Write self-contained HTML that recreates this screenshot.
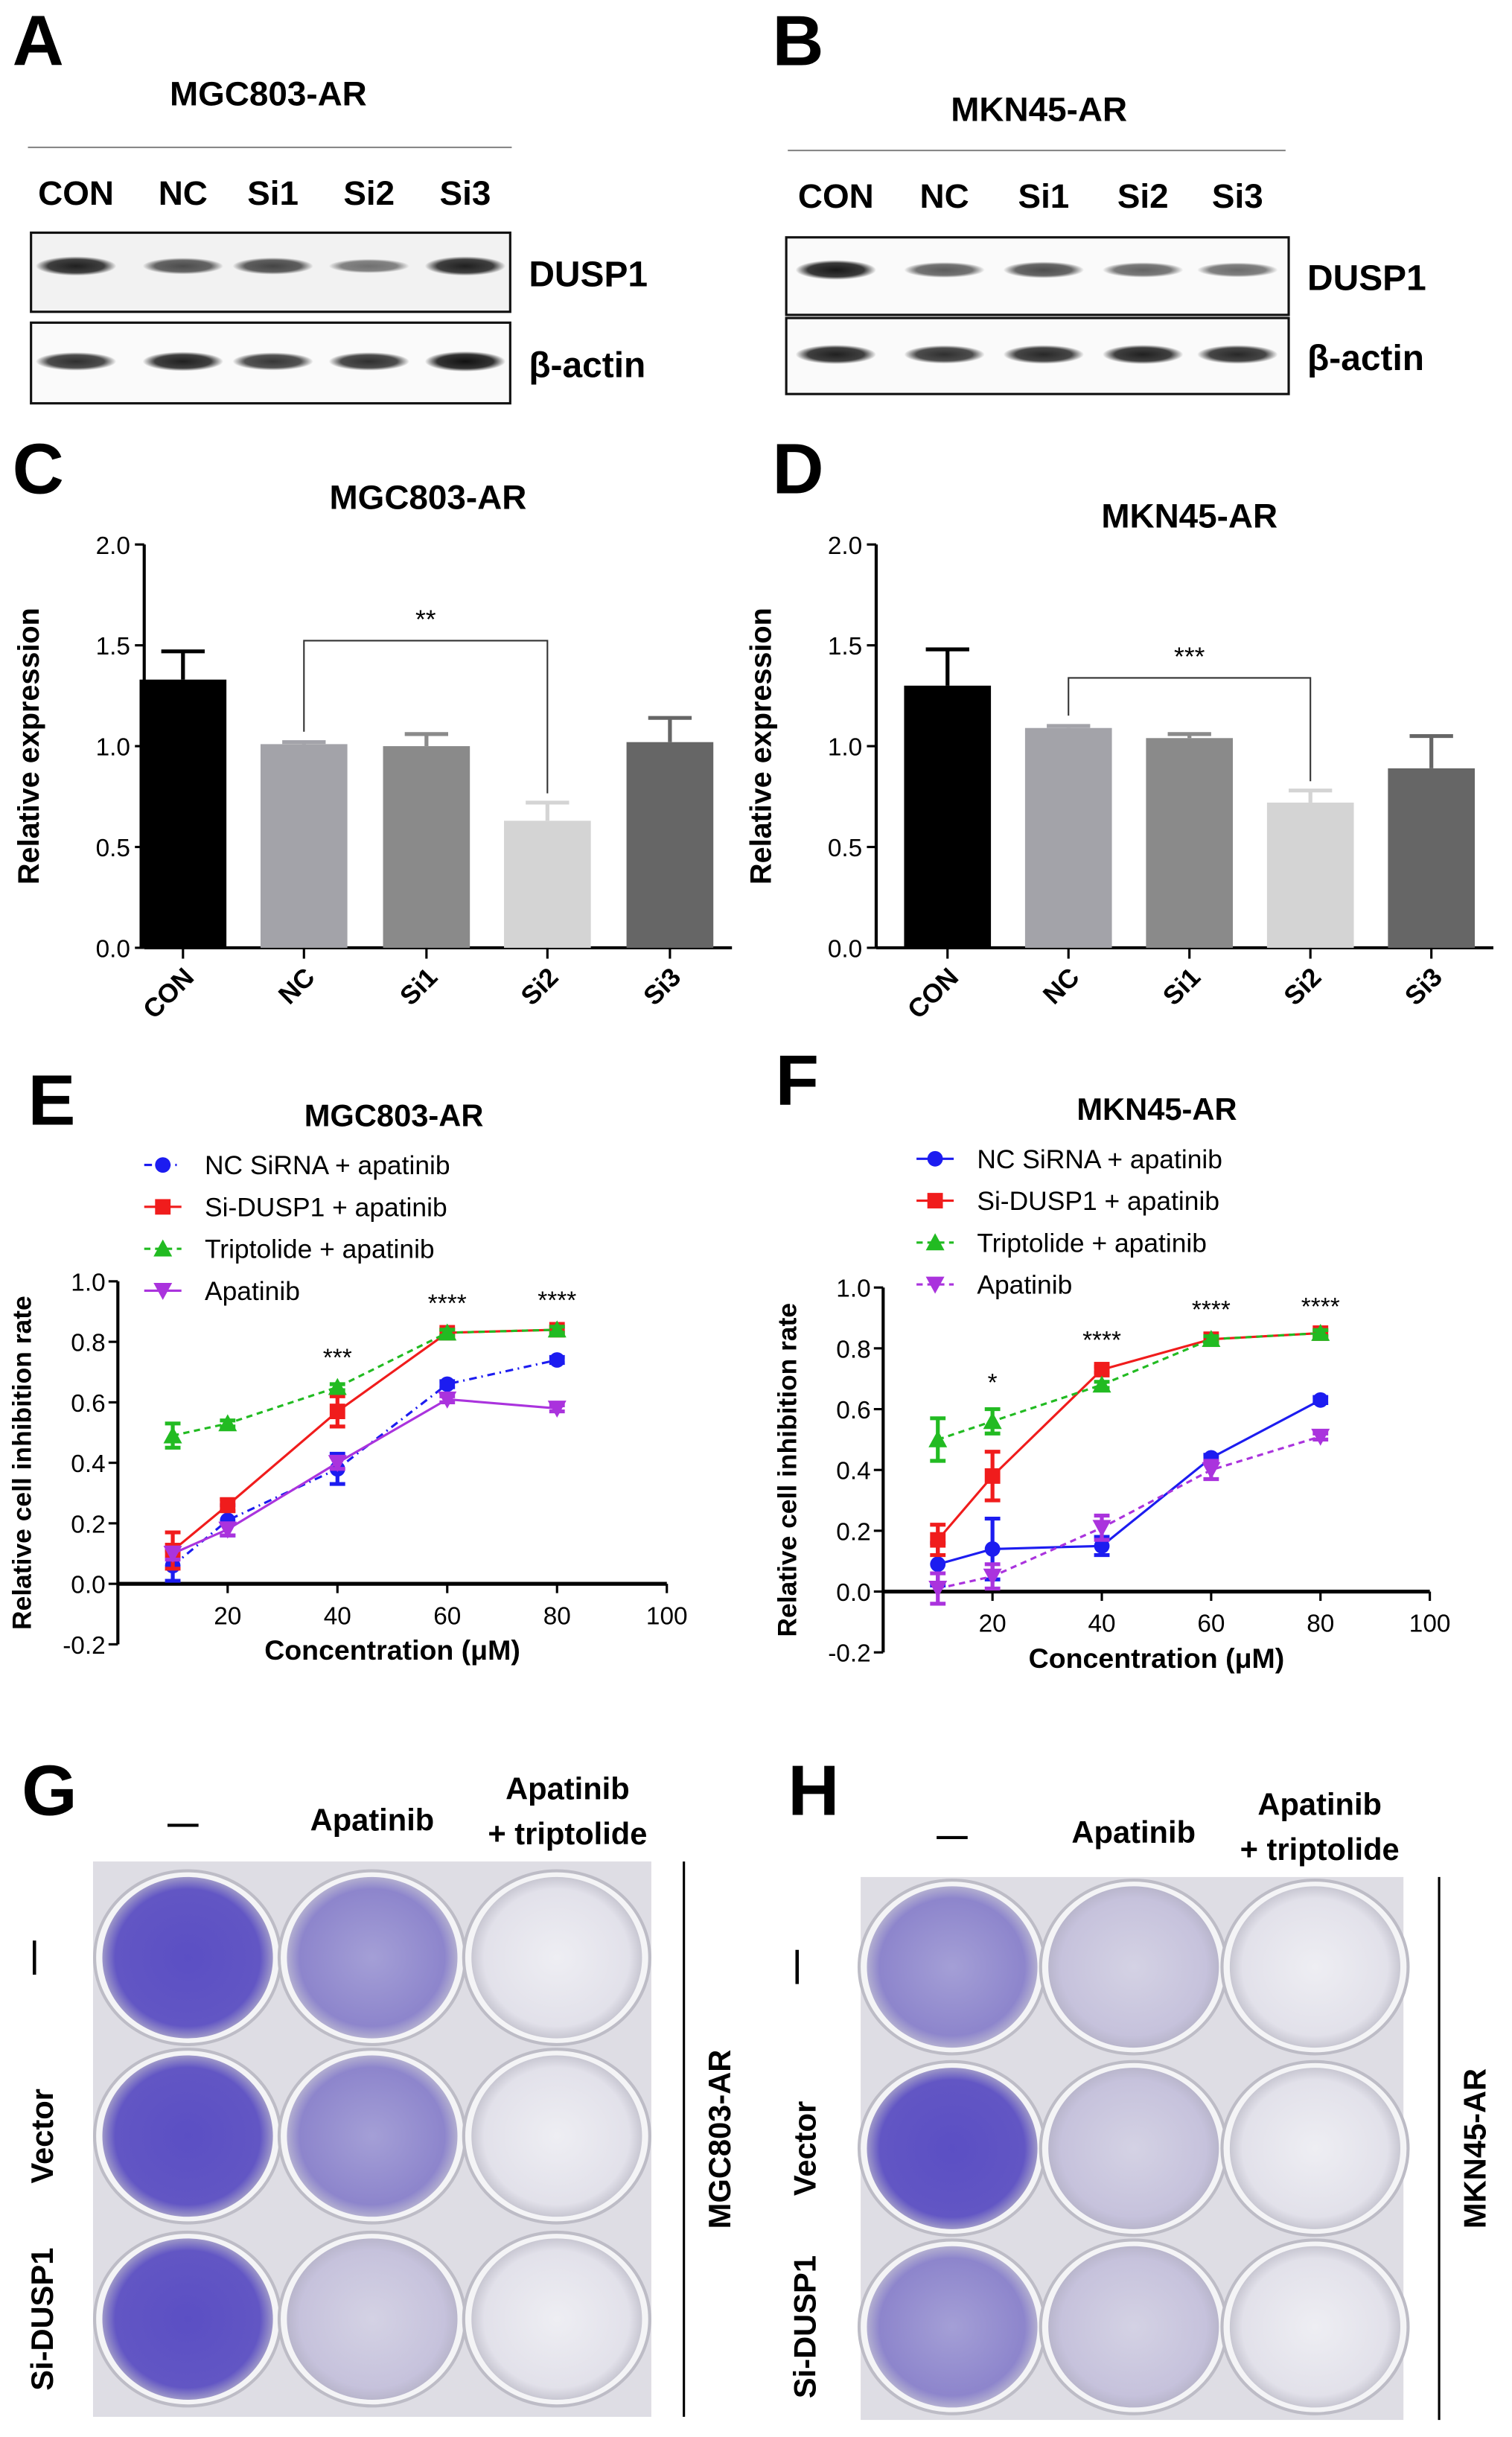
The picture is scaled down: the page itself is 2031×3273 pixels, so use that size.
<!DOCTYPE html>
<html><head><meta charset="utf-8"><style>
html,body{margin:0;padding:0;background:#fff}
svg{display:block}
text{font-family:"Liberation Sans",Arial,sans-serif}
.b{font-weight:bold}
</style></head><body>
<svg id="fig" xmlns="http://www.w3.org/2000/svg" width="2031" height="3273" viewBox="0 0 975 1571" preserveAspectRatio="none">
<defs>
<radialGradient id="gDark" cx="50%" cy="50%" r="50%"><stop offset="0" stop-color="#5b4fc4"/><stop offset="0.85" stop-color="#6256c4"/><stop offset="1" stop-color="#9d97c8"/></radialGradient>
<radialGradient id="gMid" cx="50%" cy="50%" r="50%"><stop offset="0" stop-color="#a49fd6"/><stop offset="0.85" stop-color="#8d85cc"/><stop offset="1" stop-color="#b2aed0"/></radialGradient>
<radialGradient id="gLight" cx="50%" cy="50%" r="50%"><stop offset="0" stop-color="#d4d2e4"/><stop offset="0.85" stop-color="#c6c2dc"/><stop offset="1" stop-color="#b9b6cc"/></radialGradient>
<radialGradient id="gClear" cx="50%" cy="50%" r="50%"><stop offset="0" stop-color="#eeeef3"/><stop offset="0.85" stop-color="#e2e1ea"/><stop offset="1" stop-color="#c8c7d2"/></radialGradient>
<radialGradient id="band" cx="50%" cy="50%" r="50%"><stop offset="0" stop-color="#111"/><stop offset="0.7" stop-color="#333"/><stop offset="1" stop-color="#333" stop-opacity="0"/></radialGradient>
</defs>
<g id="root"></g>
</svg>
<script>
// ---- data ----
const barCats = ["CON","NC","Si1","Si2","Si3"];
const barC = [1.33,1.01,1.00,0.63,1.02];
const barCErr = [0.14,0.01,0.06,0.09,0.12];
const barD = [1.30,1.09,1.04,0.72,0.89];
const barDErr = [0.18,0.01,0.02,0.06,0.16];
const barYTicks = [0,0.5,1.0,1.5,2.0];
const barColors = ["#000000","#a3a3a9","#8a8a8a","#d4d4d4","#666666"];
const concX = [10,20,40,60,80];
const xTicks = [20,40,60,80,100];
const lineYTicks = [-0.2,0,0.2,0.4,0.6,0.8,1.0];
const eNC = [0.06,0.21,0.38,0.66,0.74];
const eNCErr = [0.05,0.05,0.05,0.01,0.01];
const eSi = [0.11,0.26,0.57,0.83,0.84];
const eSiErr = [0.06,0.02,0.05,0.01,0.01];
const eTr = [0.49,0.53,0.65,0.83,0.84];
const eTrErr = [0.04,0.01,0.01,0.01,0.01];
const eAp = [0.10,0.18,0.40,0.61,0.58];
const eApErr = [0.02,0.02,0.02,0.01,0.01];
const fNC = [0.09,0.14,0.15,0.44,0.63];
const fNCErr = [0.07,0.10,0.03,0.01,0.01];
const fSi = [0.17,0.38,0.73,0.83,0.85];
const fSiErr = [0.05,0.08,0.01,0.01,0.01];
const fTr = [0.50,0.56,0.68,0.83,0.85];
const fTrErr = [0.07,0.04,0.01,0.01,0.01];
const fAp = [0.01,0.05,0.21,0.40,0.51];
const fApErr = [0.05,0.04,0.04,0.03,0.01];
const legendLabels = ["NC SiRNA + apatinib","Si-DUSP1 + apatinib","Triptolide + apatinib","Apatinib"];

const NS="http://www.w3.org/2000/svg";
const root=document.getElementById('root');
function el(tag,attrs,parent,txt){const e=document.createElementNS(NS,tag);for(const k in attrs)e.setAttribute(k,attrs[k]);if(txt!==undefined)e.textContent=txt;(parent||root).appendChild(e);return e;}
function T(x,y,s,size,opts,parent){opts=opts||{};const a={x:x,y:y,'font-size':size,fill:opts.fill||'#000'};if(opts.bold!==false)a['font-weight']='bold';if(opts.anchor)a['text-anchor']=opts.anchor;if(opts.transform)a.transform=opts.transform;const t=el('text',a,parent,s);return t;}

// panel letters
[["A",8,42],["B",498,42],["C",8,318],["D",498,318],["E",18,725],["F",500,712],["G",14,1170],["H",508,1170]].forEach(p=>{
  const t=T(p[1],p[2],p[0],46);
  
  
});

// ---- western blots ----
function blot(id,title,tx,ty,lx1,lx2,ly,labY,lanes,box1,box2,dusp,actin){
  const g=el('g',{});
  
  
  T(tx,ty,title,22,{anchor:'middle'},g);
  el('line',{x1:lx1,x2:lx2,y1:ly,y2:ly,stroke:'#888','stroke-width':1},g);
  barCats.forEach((c,i)=>T(lanes[i],labY,c,22,{anchor:'middle'},g));
  [box1,box2].forEach((b,k)=>{
    el('rect',{x:b[0],y:b[1],width:b[2],height:b[3],fill:k==0&&id=='a'?'#f2f2f2':'#fafafa',stroke:'#111','stroke-width':1.5},g);
    const ints=k==0?dusp:actin;
    lanes.forEach((x,i)=>{el('ellipse',{cx:x,cy:b[1]+b[3]/2-(k==0?4:1),rx:26,ry:3.5+3*ints[i],fill:'url(#band)',opacity:0.35+0.65*ints[i]},g);});
  });
  T(box1[0]+box1[2]+12,box1[1]+box1[3]/2+9,"DUSP1",23,{},g);
  T(box2[0]+box2[2]+12,box2[1]+box2[3]/2+9,"β-actin",23,{},g);
}
blot('a',"MGC803-AR",173,68,18,330,95,132,[49,118,176,238,300],[20,150,309,51],[20,208,309,52],[0.9,0.6,0.65,0.35,0.9],[0.8,0.9,0.75,0.8,1]);
blot('b',"MKN45-AR",670,78,508,829,97,134,[539,609,673,737,798],[507,153,324,50],[507,205,324,49],[0.95,0.5,0.6,0.45,0.4],[0.9,0.8,0.85,0.9,0.85]);

// ---- bar charts ----
function barChart(id,title,tx,ty,ax,y0,y2,centers,vals,errs,sig,sigIdx,sigY){
  const g=el('g',{});
  
  
  const ys=v=>y0-(y0-y2)*v/2;
  T(tx,ty,title,22,{anchor:'middle'},g);
  el('line',{x1:ax,x2:ax,y1:y2,y2:y0,stroke:'#000','stroke-width':2},g);
  el('line',{x1:ax,x2:centers[4]+40,y1:y0,y2:y0,stroke:'#000','stroke-width':2},g);
  barYTicks.forEach(v=>{el('line',{x1:ax-6,x2:ax,y1:ys(v),y2:ys(v),stroke:'#000','stroke-width':1.5},g);
    T(ax-9,ys(v)+6,v.toFixed(1),16,{anchor:'end',bold:false},g);});
  const yt=T(0,0,"Relative expression",19,{anchor:'middle',transform:`translate(${ax-68},${(y0+y2)/2}) rotate(-90)`},g);
  
  
  vals.forEach((v,i)=>{
    const r=el('rect',{x:centers[i]-28,y:ys(v),width:56,height:y0-ys(v),fill:barColors[i]},g);
    
    
    const ye=ys(v+errs[i]);
    el('line',{x1:centers[i],x2:centers[i],y1:ys(v),y2:ye,stroke:barColors[i],'stroke-width':2.5},g);
    el('line',{x1:centers[i]-14,x2:centers[i]+14,y1:ye,y2:ye,stroke:barColors[i],'stroke-width':2.5},g);
    el('line',{x1:centers[i],x2:centers[i],y1:y0,y2:y0+7,stroke:'#000','stroke-width':1.5},g);
    T(0,0,barCats[i],17,{anchor:'end',transform:`translate(${centers[i]+8},${y0+20}) rotate(-45)`},g);
  });
  const a=centers[sigIdx[0]],b=centers[sigIdx[1]];
  el('path',{d:`M${a} ${ys(vals[sigIdx[0]])-8} V${sigY} H${b} V${ys(vals[sigIdx[1]]+errs[sigIdx[1]])-6}`,fill:'none',stroke:'#333','stroke-width':1},g);
  T((a+b)/2,sigY-8,sig,17,{anchor:'middle',bold:false},g);
}
barChart('c',"MGC803-AR",276,328,93,611,351,[118,196,275,353,432],barC,barCErr,"**",[1,3],413);
barChart('d',"MKN45-AR",767,340,565,611,351,[611,689,767,845,923],barD,barDErr,"***",[1,3],437);

// ---- line charts ----
function marker(g,shape,x,y,c){
  if(shape=='circle')return el('circle',{cx:x,cy:y,r:5,fill:c},g);
  if(shape=='square')return el('rect',{x:x-5,y:y-5,width:10,height:10,fill:c},g);
  if(shape=='tri')return el('path',{d:`M${x} ${y-6}L${x+6} ${y+5}L${x-6} ${y+5}Z`,fill:c},g);
  return el('path',{d:`M${x} ${y+6}L${x+6} ${y-5}L${x-6} ${y-5}Z`,fill:c},g);
}
function lineChart(id,title,tx,ty,x0,unit,y1,yz,series,legX,legY,stars,starY,brk,brkStar,nc_dash,ap_dash){
  const g=el('g',{});
  
  
  const yu=(yz-y1);
  const xs=v=>x0+v*unit, ys=v=>yz-yu*v;
  T(tx,ty,title,20,{anchor:'middle'},g);
  el('line',{x1:x0,x2:x0,y1:ys(1),y2:ys(-0.2),stroke:'#000','stroke-width':2},g);
  el('line',{x1:x0,x2:xs(100),y1:yz,y2:yz,stroke:'#000','stroke-width':2.5},g);
  lineYTicks.forEach(v=>{el('line',{x1:x0-6,x2:x0,y1:ys(v),y2:ys(v),stroke:'#000','stroke-width':1.5},g);
    T(x0-8,ys(v)+6,v.toFixed(1),16,{anchor:'end',bold:false},g);});
  xTicks.forEach(v=>{el('line',{x1:xs(v),x2:xs(v),y1:yz,y2:yz+6,stroke:'#000','stroke-width':1.5},g);
    T(xs(v),yz+26,String(v),16,{anchor:'middle',bold:false},g);});
  T(xs(50),ys(-0.2)+10,"Concentration (μM)",18,{anchor:'middle'},g);
  T(0,0,"Relative cell inhibition rate",17,{anchor:'middle',transform:`translate(${x0-56},${ys(0.4)}) rotate(-90)`},g);
  series.forEach((s,k)=>{
    const sg=el('g',{},g);
    
    
    const pts=concX.map((c,i)=>xs(c)+','+ys(s.v[i])).join(' ');
    el('polyline',{points:pts,fill:'none',stroke:s.c,'stroke-width':1.5,'stroke-dasharray':s.dash||''},sg);
    concX.forEach((c,i)=>{
      const x=xs(c),a=ys(s.v[i]-s.e[i]),b=ys(s.v[i]+s.e[i]);
      el('path',{d:`M${x} ${a}V${b}M${x-5} ${a}H${x+5}M${x-5} ${b}H${x+5}`,stroke:s.c,'stroke-width':2.5,fill:'none'},sg);
      marker(sg,s.m,x,ys(s.v[i]),s.c);
    });
    const ly=legY+k*27;
    const lg=el('g',{},g);
    
    
    el('line',{x1:legX-12,x2:legX+12,y1:ly,y2:ly,stroke:s.c,'stroke-width':1.5,'stroke-dasharray':s.dash||''},lg);
    marker(lg,s.m,legX,ly,s.c);
    T(legX+27,ly+6,legendLabels[k],17,{bold:false},lg);
  });
  stars.forEach(st=>T(xs(st[0]),ys(st[1]),st[2],16,{anchor:'middle',bold:false},g));
  el('path',{d:`M${xs(80)+8} ${ys(brk[0])}H${xs(80)+22}V${ys(brk[1])}H${xs(80)+8}`,fill:'none',stroke:'#333','stroke-width':1},g);
  T(xs(80)+30,(ys(brk[0])+ys(brk[1]))/2+8,brkStar,16,{bold:false},g);
}
lineChart('e',"MGC803-AR",254,726,76,3.54,826,1021,[
 {name:'nc-sirna',v:eNC,e:eNCErr,c:'#1c1cf0',m:'circle',dash:'5,3,1,3'},
 {name:'si-dusp1',v:eSi,e:eSiErr,c:'#f01c1c',m:'square'},
 {name:'triptolide',v:eTr,e:eTrErr,c:'#22bb22',m:'tri',dash:'4,3'},
 {name:'apatinib',v:eAp,e:eApErr,c:'#aa33dd',m:'tri-down'}],105,751,
 [[40,0.72,'***'],[60,0.90,'****'],[80,0.91,'****']],[0.84,0.58],'*');
lineChart('f',"MKN45-AR",746,722,569.5,3.525,830,1026,[
 {name:'nc-sirna',v:fNC,e:fNCErr,c:'#1c1cf0',m:'circle'},
 {name:'si-dusp1',v:fSi,e:fSiErr,c:'#f01c1c',m:'square'},
 {name:'triptolide',v:fTr,e:fTrErr,c:'#22bb22',m:'tri',dash:'4,3'},
 {name:'apatinib',v:fAp,e:fApErr,c:'#aa33dd',m:'tri-down',dash:'4,3'}],603,747,
 [[20,0.66,'*'],[40,0.80,'****'],[60,0.90,'****'],[80,0.91,'****']],[0.85,0.51],'**');

// ---- colony plates ----
function plates(id,x,y,w,h,cols,rows,fills,colLabels,rowLabelX,lineX,cell){
  const g=el('g',{});
  
  
  el('rect',{x:x,y:y,width:w,height:h,fill:'#dedde4'},g);
  rows.forEach((ry,r)=>cols.forEach((cx,c)=>{
    el('ellipse',{cx:cx,cy:ry,rx:60,ry:56,fill:'#f4f4f6',stroke:'#bdbcc6','stroke-width':2},g);
    el('ellipse',{cx:cx,cy:ry,rx:55,ry:52,fill:'url(#'+fills[r][c]+')'},g);
  }));
  colLabels.forEach(l=>T(l[0],l[1],l[2],20,{anchor:'middle'},g));
  T(0,0,"—",22,{anchor:'middle',transform:`translate(${rowLabelX},${rows[0]}) rotate(-90)`},g);
  T(0,0,"Vector",20,{anchor:'middle',transform:`translate(${rowLabelX+6},${rows[1]}) rotate(-90)`},g);
  T(0,0,"Si-DUSP1",20,{anchor:'middle',transform:`translate(${rowLabelX+6},${rows[2]}) rotate(-90)`},g);
  el('line',{x1:lineX,x2:lineX,y1:y,y2:y+h,stroke:'#000','stroke-width':1.5},g);
  T(0,0,cell,20,{anchor:'middle',transform:`translate(${lineX+30},${y+h/2}) rotate(-90)`},g);
}
plates('g',60,1200,360,358,[121,240,359],[1262,1377,1495],
 [['gDark','gMid','gClear'],['gDark','gMid','gClear'],['gDark','gLight','gClear']],
 [[118,1182,'—'],[240,1180,'Apatinib'],[366,1160,'Apatinib'],[366,1189,'+ triptolide']],28,441,"MGC803-AR");
plates('h',555,1210,350,350,[614,731,848],[1268,1385,1500],
 [['gMid','gLight','gClear'],['gDark','gLight','gClear'],['gMid','gLight','gClear']],
 [[614,1190,'—'],[731,1188,'Apatinib'],[851,1170,'Apatinib'],[851,1199,'+ triptolide']],520,928,"MKN45-AR");
</script>
</body></html>
